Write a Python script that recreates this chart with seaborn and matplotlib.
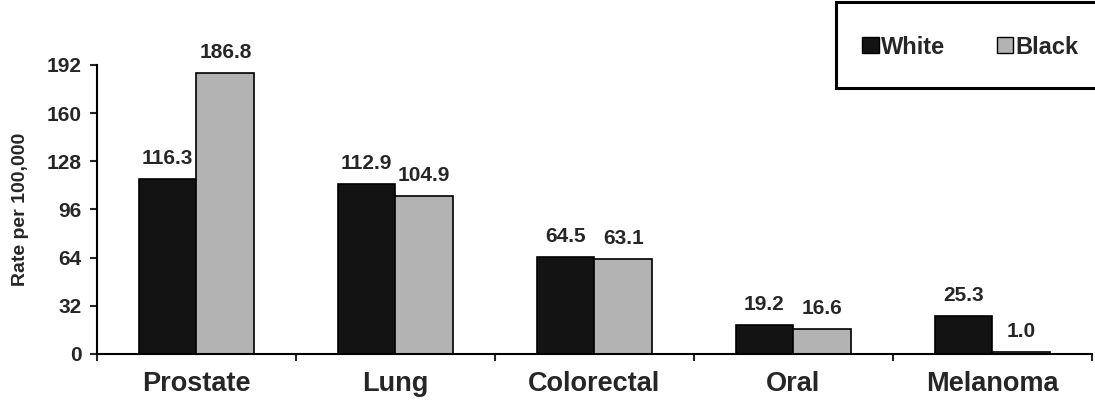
import matplotlib
matplotlib.use("Agg")
import matplotlib.pyplot as plt
import seaborn as sns
import pandas as pd
from matplotlib.patches import Patch, Rectangle

categories = ["Prostate", "Lung", "Colorectal", "Oral", "Melanoma"]
white_vals = [116.3, 112.9, 64.5, 19.2, 25.3]
black_vals = [186.8, 104.9, 63.1, 16.6, 1.0]
series = ["White", "Black"]
yticks = [0, 32, 64, 96, 128, 160, 192]

df = pd.DataFrame({
    "cat": categories * 2,
    "val": white_vals + black_vals,
    "race": ["White"] * len(categories) + ["Black"] * len(categories),
})

sns.set_style("white")
plt.rcParams["font.family"] = ["Liberation Sans", "DejaVu Sans"]
colors = {"White": "#131313", "Black": "#b3b3b3"}

fig = plt.figure(figsize=(10.95, 4.11), dpi=100)
ax = fig.add_axes([0.0886, 0.1387, 0.9084, 0.7033])
sns.barplot(data=df, x="cat", y="val", hue="race", hue_order=series,
            palette=colors, order=categories, width=0.58, dodge=True,
            edgecolor="black", linewidth=1.2, saturation=1, ax=ax, legend=False)

for cont in ax.containers:
    ax.bar_label(cont, fmt="%.1f", padding=8, fontsize=15, fontweight="bold")

ax.set_xlim(-0.5, 4.5)
ax.set_ylim(0, 192)
ax.set_yticks(yticks)
ax.set_yticklabels([str(t) for t in yticks], fontsize=15, fontweight="bold")
ax.set_xticks(range(len(categories)))
ax.set_xticklabels(categories, fontsize=19.5, fontweight="bold")
ax.set_xticks([i - 0.5 for i in range(len(categories) + 1)], minor=True)
ax.tick_params(axis="x", which="major", length=0, pad=12)
ax.tick_params(axis="x", which="minor", length=5, width=1.5, direction="out", bottom=True)
ax.tick_params(axis="y", length=5, width=1.5, direction="out", left=True, pad=6)
ax.set_xlabel("")
ax.set_ylabel("Rate per 100,000", fontsize=14, fontweight="bold")
ax.yaxis.set_label_coords(-0.068, 0.5)
for s in ["top", "right"]:
    ax.spines[s].set_visible(False)
for s in ["left", "bottom"]:
    ax.spines[s].set_linewidth(1.5)
    ax.spines[s].set_color("black")

# legend box (extends past the right edge of the figure)
fig.patches.append(Rectangle((836 / 1095, 1 - 88 / 411), 300 / 1095, 86 / 411,
                             transform=fig.transFigure, facecolor="white",
                             edgecolor="black", linewidth=2.2, zorder=5))
handles = [Patch(facecolor=colors[s], edgecolor="black", label=s) for s in series]
leg = fig.legend(handles=handles, loc="center left", bbox_to_anchor=(862 / 1095, 1 - 47 / 411),
                 ncol=2, frameon=False, prop={"weight": "bold", "size": 17},
                 handlelength=0.7, handleheight=0.7, handletextpad=0.1,
                 columnspacing=2.2, borderpad=0, borderaxespad=0)
leg.set_zorder(6)

fig.savefig("out.png", dpi=100)
